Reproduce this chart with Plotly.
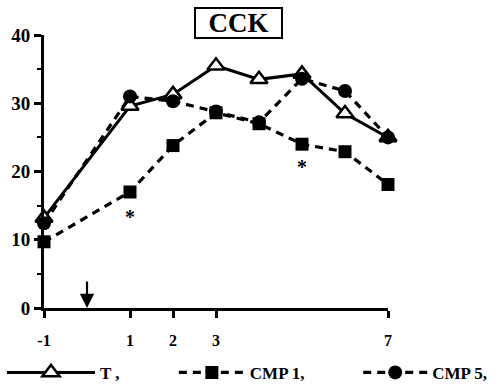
import plotly.graph_objects as go

days = [-1, 1, 2, 3, 4, 5, 6, 7]
t_vals = [13.2, 29.6, 31.3, 35.5, 33.5, 34.3, 28.5, 25.0]
cmp1_vals = [9.7, 17.0, 23.8, 28.6, 27.0, 24.0, 22.9, 18.1]
cmp5_vals = [12.4, 31.0, 30.3, 28.8, 27.2, 33.6, 31.8, 25.0]
series_names = ["T ,", "CMP 1,", "CMP 5,"]
x_tick_vals = [-1, 1, 2, 3, 7]
x_tick_text = ["-1", "1", "2", "3", "7"]
y_tick_vals = [0, 10, 20, 30, 40]
star_x = [1, 5]
star_y = [13.4, 20.6]
injection_day = 0
title_text = "CCK"

FONT = "Liberation Serif"

fig = go.Figure()
fig.add_trace(go.Scatter(
    x=days, y=t_vals, name=series_names[0], mode="lines+markers",
    legend="legend",
    line=dict(color="black", width=3),
    marker=dict(symbol="triangle-up", size=15, color="white",
                line=dict(color="black", width=2.5)),
    cliponaxis=False))
fig.add_trace(go.Scatter(
    x=days, y=cmp1_vals, name=series_names[1], mode="lines+markers",
    legend="legend2",
    line=dict(color="black", width=3.2, dash="8px,6px"),
    marker=dict(symbol="square", size=13, color="black"),
    cliponaxis=False))
fig.add_trace(go.Scatter(
    x=days, y=cmp5_vals, name=series_names[2], mode="lines+markers",
    legend="legend3",
    line=dict(color="black", width=3.2, dash="8px,6px"),
    marker=dict(symbol="circle", size=14, color="black"),
    cliponaxis=False))

for sx, sy in zip(star_x, star_y):
    fig.add_annotation(x=sx, y=sy, text="<b>*</b>", showarrow=False,
                       font=dict(family=FONT, size=20, color="black"))

fig.add_annotation(x=injection_day, y=0, ax=0, ay=-28, text="",
                   showarrow=True, arrowhead=2, arrowsize=1.3,
                   arrowwidth=2.2, arrowcolor="black")

fig.add_annotation(xref="paper", yref="paper", x=0.565, y=1.044,
                   text="<b>" + title_text + "</b>", showarrow=False,
                   font=dict(family=FONT, size=27, color="black"),
                   width=85, height=28,
                   bordercolor="black", borderwidth=2, borderpad=0,
                   yanchor="middle")

legend_font = dict(family=FONT, size=17, color="black", weight="bold")
common_leg = dict(orientation="h", xref="container", yref="container",
                  y=0.039, xanchor="left", yanchor="middle",
                  bgcolor="rgba(0,0,0,0)", font=legend_font)

fig.update_layout(
    width=501, height=388,
    margin=dict(l=44, r=113, t=35, b=80, autoexpand=False),
    paper_bgcolor="white", plot_bgcolor="white",
    font=dict(family=FONT, color="black"),
    legend=dict(common_leg, x=0.004, itemwidth=88),
    legend2=dict(common_leg, x=0.347, itemwidth=66),
    legend3=dict(common_leg, x=0.715, itemwidth=64),
    showlegend=True,
)
fig.update_xaxes(range=[-1, 7], tickvals=x_tick_vals, ticktext=x_tick_text,
                 automargin=False,
                 showgrid=False, zeroline=False, showline=True,
                 linecolor="black", linewidth=3, ticks="outside",
                 ticklen=7, tickwidth=2.5, tickcolor="black",
                 ticklabelstandoff=9,
                 tickfont=dict(family=FONT, size=16, weight="bold"))
fig.update_yaxes(range=[0, 40], tickvals=y_tick_vals,
                 automargin=False,
                 showgrid=False, zeroline=False, showline=True,
                 linecolor="black", linewidth=3, ticks="outside",
                 ticklen=7, tickwidth=2.5, tickcolor="black",
                 minor=dict(dtick=5, ticks="outside", ticklen=4,
                            tickwidth=2, tickcolor="black"),
                 tickfont=dict(family=FONT, size=19, weight="bold"))

fig.write_html("out.html", config={"displayModeBar": False},
               post_script="document.body.style.margin='0';")
